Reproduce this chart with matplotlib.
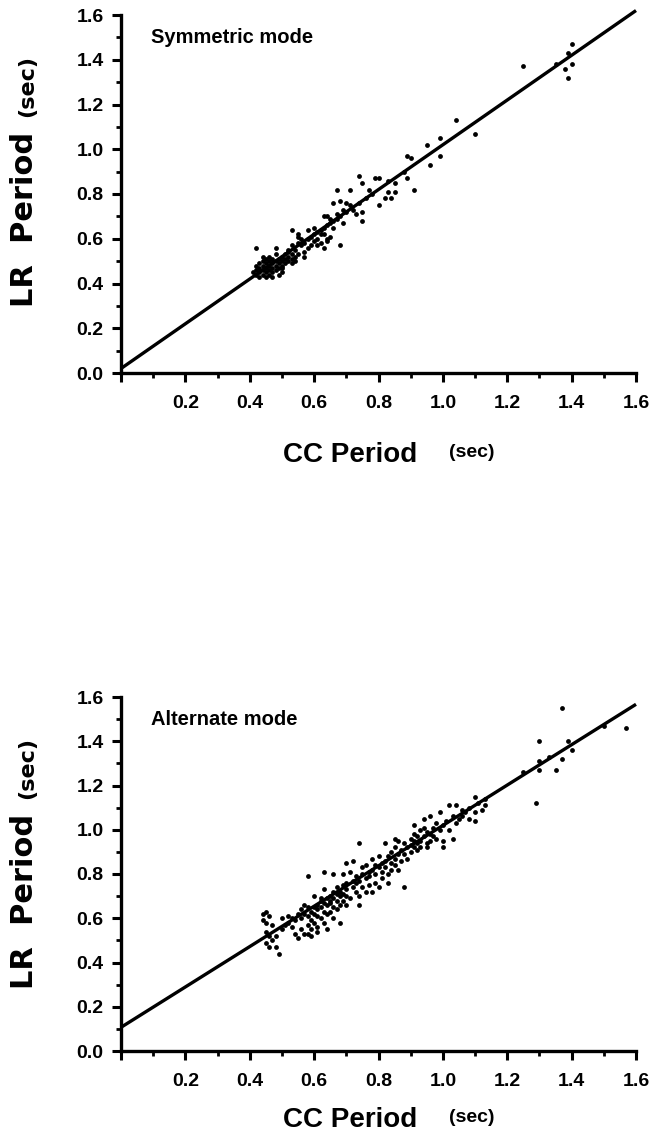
import matplotlib
matplotlib.use("Agg")
import matplotlib.pyplot as plt
from matplotlib.ticker import MultipleLocator, FuncFormatter

# ---------------- data ----------------
# Symmetric mode: CC period vs LR period (sec)
sym_cc = [1.25, 1.40, 1.39, 1.35, 1.38, 1.40, 1.39, 1.04, 1.10, 0.99, 0.95, 0.99, 0.96,
          0.89, 0.90, 0.88, 0.89, 0.91, 0.85, 0.83, 0.80, 0.79, 0.74, 0.75, 0.77, 0.83,
          0.85, 0.82, 0.84, 0.80, 0.67, 0.71, 0.66, 0.68, 0.70, 0.71, 0.73, 0.75, 0.75,
          0.69, 0.67, 0.69, 0.64, 0.65, 0.65, 0.63, 0.68, 0.57, 0.64, 0.63,
          0.53, 0.54, 0.55, 0.56, 0.56, 0.57, 0.58, 0.58, 0.59, 0.60, 0.60, 0.61, 0.61,
          0.62, 0.62, 0.63, 0.63, 0.64, 0.65, 0.66, 0.66, 0.67, 0.68, 0.70, 0.72, 0.74,
          0.76, 0.78, 0.54, 0.55, 0.57, 0.59, 0.60, 0.58, 0.62, 0.55, 0.52, 0.53, 0.48,
          0.42, 0.53, 0.55, 0.64, 0.61,
          0.42, 0.42, 0.43, 0.43, 0.44, 0.44, 0.44, 0.45, 0.45, 0.45, 0.46, 0.46, 0.46,
          0.47, 0.47, 0.47, 0.48, 0.48, 0.48, 0.49, 0.49, 0.49, 0.50, 0.50, 0.50, 0.51,
          0.51, 0.51, 0.52, 0.52, 0.52, 0.53, 0.50, 0.45, 0.47, 0.44, 0.46, 0.43, 0.41,
          0.42, 0.49, 0.50, 0.48, 0.46, 0.53, 0.54, 0.44, 0.47, 0.43, 0.45]
sym_lr = [1.37, 1.47, 1.43, 1.38, 1.36, 1.38, 1.32, 1.13, 1.07, 1.05, 1.02, 0.97, 0.93,
          0.97, 0.96, 0.90, 0.87, 0.82, 0.85, 0.86, 0.87, 0.87, 0.88, 0.85, 0.82, 0.81,
          0.81, 0.78, 0.78, 0.75, 0.82, 0.82, 0.76, 0.77, 0.76, 0.75, 0.71, 0.72, 0.68,
          0.73, 0.71, 0.67, 0.70, 0.69, 0.61, 0.56, 0.57, 0.52, 0.59, 0.70,
          0.57, 0.55, 0.58, 0.57, 0.60, 0.58, 0.60, 0.56, 0.61, 0.62, 0.59, 0.63, 0.60,
          0.64, 0.62, 0.65, 0.62, 0.66, 0.67, 0.68, 0.65, 0.69, 0.70, 0.72, 0.73, 0.76,
          0.78, 0.80, 0.52, 0.53, 0.54, 0.57, 0.65, 0.64, 0.58, 0.61, 0.55, 0.53, 0.56,
          0.56, 0.64, 0.62, 0.60, 0.57,
          0.46, 0.44, 0.47, 0.45, 0.48, 0.46, 0.44, 0.47, 0.45, 0.49, 0.48, 0.46, 0.50,
          0.47, 0.49, 0.45, 0.50, 0.48, 0.46, 0.51, 0.49, 0.47, 0.52, 0.50, 0.48, 0.53,
          0.51, 0.49, 0.52, 0.50, 0.54, 0.51, 0.45, 0.43, 0.43, 0.50, 0.52, 0.49, 0.45,
          0.48, 0.44, 0.47, 0.53, 0.44, 0.49, 0.50, 0.52, 0.51, 0.43, 0.51]

# Alternate mode: CC period vs LR period (sec)
alt_cc = [0.44, 0.45, 0.46, 0.44, 0.45, 0.47, 0.45, 0.46, 0.47, 0.45, 0.46, 0.48, 0.49,
          0.48, 0.50, 0.51, 0.52, 0.53, 0.53, 0.54, 0.52, 0.54, 0.55, 0.50, 0.55,
          0.56, 0.56, 0.56, 0.57, 0.57, 0.57, 0.58, 0.58, 0.58, 0.58, 0.58, 0.59, 0.59,
          0.59, 0.59, 0.60, 0.60, 0.60, 0.60, 0.61, 0.61, 0.61, 0.61, 0.61, 0.62, 0.62,
          0.62, 0.62, 0.63, 0.63, 0.63, 0.63, 0.63, 0.64, 0.64, 0.64, 0.64, 0.65, 0.65,
          0.65, 0.65, 0.66, 0.66, 0.66, 0.66, 0.66, 0.67, 0.67, 0.67, 0.67, 0.68, 0.68,
          0.68, 0.68, 0.69, 0.69, 0.69, 0.69, 0.70, 0.70, 0.70, 0.70, 0.70, 0.71, 0.71,
          0.72, 0.72, 0.72,
          0.73, 0.73, 0.73, 0.74, 0.74, 0.74, 0.74, 0.75, 0.75, 0.75, 0.76, 0.76, 0.76,
          0.77, 0.77, 0.77, 0.78, 0.78, 0.78, 0.79, 0.79, 0.79, 0.80, 0.80, 0.80, 0.81,
          0.81, 0.81, 0.82, 0.82, 0.82, 0.83, 0.83, 0.83, 0.84, 0.84, 0.84, 0.85, 0.85,
          0.85, 0.85, 0.86, 0.86, 0.86, 0.87, 0.87,
          0.88, 0.88, 0.88, 0.89, 0.89, 0.90, 0.90, 0.90, 0.91, 0.91, 0.91, 0.91, 0.92,
          0.92, 0.92, 0.93, 0.93, 0.93, 0.94, 0.94, 0.94, 0.95, 0.95, 0.95, 0.96, 0.96,
          0.96, 0.97, 0.97, 0.98, 0.98, 0.99, 0.99, 1.00, 1.00, 1.00,
          1.01, 1.02, 1.02, 1.03, 1.03, 1.04, 1.04, 1.05, 1.06, 1.06, 1.07, 1.08, 1.08,
          1.10, 1.10, 1.10, 1.11, 1.12, 1.13, 1.13,
          1.25, 1.29, 1.30, 1.30, 1.30, 1.35, 1.37, 1.39, 1.40, 1.37, 1.50, 1.57, 1.33]
alt_lr = [0.62, 0.63, 0.61, 0.59, 0.58, 0.57, 0.54, 0.52, 0.50, 0.49, 0.47, 0.47, 0.44,
          0.52, 0.55, 0.57, 0.58, 0.60, 0.56, 0.59, 0.61, 0.53, 0.51, 0.60, 0.62,
          0.64, 0.60, 0.55, 0.53, 0.62, 0.66, 0.65, 0.61, 0.57, 0.53, 0.79, 0.63, 0.59,
          0.55, 0.52, 0.65, 0.62, 0.58, 0.70, 0.66, 0.64, 0.61, 0.56, 0.54, 0.68, 0.65,
          0.60, 0.69, 0.67, 0.63, 0.73, 0.81, 0.58, 0.66, 0.69, 0.62, 0.55, 0.70, 0.67,
          0.63, 0.68, 0.72, 0.69, 0.65, 0.80, 0.60, 0.71, 0.68, 0.64, 0.74, 0.72, 0.70,
          0.66, 0.58, 0.75, 0.71, 0.68, 0.80, 0.73, 0.70, 0.76, 0.66, 0.85, 0.81, 0.69,
          0.86, 0.74, 0.77,
          0.76, 0.72, 0.79, 0.94, 0.70, 0.77, 0.66, 0.80, 0.74, 0.83, 0.78, 0.72, 0.84,
          0.81, 0.75, 0.79, 0.72, 0.82, 0.87, 0.80, 0.84, 0.76, 0.74, 0.83, 0.88, 0.85,
          0.81, 0.78, 0.94, 0.86, 0.83, 0.80, 0.88, 0.76, 0.85, 0.90, 0.82, 0.96, 0.87,
          0.92, 0.84, 0.82, 0.89, 0.95, 0.86, 0.91,
          0.89, 0.94, 0.74, 0.92, 0.87, 0.96, 0.93, 0.90, 0.95, 0.92, 0.98, 1.02, 0.94,
          0.91, 0.97, 0.95, 1.00, 0.92, 0.97, 1.01, 1.05, 0.94, 0.99, 0.92, 1.06, 0.98,
          0.95, 1.01, 0.97, 0.96, 1.03, 1.08, 1.00, 0.95, 0.92, 1.02,
          1.04, 1.11, 1.00, 0.96, 1.06, 1.11, 1.03, 1.05, 1.06, 1.09, 1.08, 1.10, 1.05,
          1.08, 1.04, 1.15, 1.12, 1.09, 1.11, 1.14,
          1.26, 1.12, 1.27, 1.31, 1.40, 1.27, 1.32, 1.40, 1.36, 1.55, 1.47, 1.46, 1.33]

# Least-squares lines (intercept, slope)
sym_fit = (0.02, 1.0)
alt_fit = (0.107, 0.9125)
fit_span = [0.0, 1.6]

# ---------------- figure ----------------
W, H = 652, 1134
fig = plt.figure(figsize=(W / 100, H / 100), dpi=100)
fig.patch.set_facecolor("white")

FONT = "Liberation Sans"
LABEL_FONT = "DejaVu Sans"


def fx(px):
    return px / W


def fy(py):
    return 1 - py / H


def make_panel(top_px, bottom_px, cc, lr, fit, title):
    left_px, right_px = 121, 636
    ax = fig.add_axes([fx(left_px), fy(bottom_px),
                       (right_px - left_px) / W, (bottom_px - top_px) / H])
    ax.set_xlim(0, 1.6)
    ax.set_ylim(0, 1.6)
    for side in ("top", "right"):
        ax.spines[side].set_visible(False)
    for side in ("left", "bottom"):
        ax.spines[side].set_linewidth(2.4)
    ax.xaxis.set_major_locator(MultipleLocator(0.2))
    ax.yaxis.set_major_locator(MultipleLocator(0.2))
    ax.xaxis.set_minor_locator(MultipleLocator(0.1))
    ax.yaxis.set_minor_locator(MultipleLocator(0.1))
    ax.xaxis.set_major_formatter(FuncFormatter(lambda v, p: "" if abs(v) < 1e-9 else f"{v:.1f}"))
    ax.yaxis.set_major_formatter(FuncFormatter(lambda v, p: f"{v:.1f}"))
    ax.tick_params(which="major", direction="out", length=6.5, width=2.2)
    ax.tick_params(which="minor", direction="out", length=3.6, width=2.0)
    ax.tick_params(axis="x", which="major", pad=9)
    ax.tick_params(axis="y", which="major", pad=6)
    for lab in ax.get_xticklabels() + ax.get_yticklabels():
        lab.set_fontfamily(FONT)
        lab.set_fontweight("bold")
        lab.set_fontsize(14)

    a, b = fit
    ax.plot(fit_span, [a + b * v for v in fit_span], color="black", lw=2.4,
            solid_capstyle="butt", clip_on=False, zorder=2)
    ax.scatter(cc, lr, s=12, c="black", linewidths=0, zorder=3, clip_on=False)

    ax.text(0.093, 1.50, title, fontfamily=FONT, fontweight="bold", fontsize=14.5,
            ha="left", va="center")
    return ax


make_panel(15, 373, sym_cc, sym_lr, sym_fit, "Symmetric mode")
make_panel(697, 1051, alt_cc, alt_lr, alt_fit, "Alternate mode")

# axis titles
for base_y, ylab_top in ((462, 15), (1127, 697)):
    fig.text(fx(350), fy(base_y), "CC Period", fontfamily=FONT, fontweight="bold",
             fontsize=20, ha="center", va="baseline")
    fig.text(fx(472), fy(base_y - 5), "(sec)", fontfamily=FONT, fontweight="bold",
             fontsize=14, ha="center", va="baseline")
    fig.text(fx(33), fy(ylab_top + 204), "LR  Period", fontfamily=LABEL_FONT,
             fontweight="bold", fontsize=22, rotation=90, rotation_mode="anchor",
             ha="center", va="baseline")
    fig.text(fx(33), fy(ylab_top + 71), "(sec)", fontfamily=LABEL_FONT,
             fontweight="bold", fontsize=16, rotation=90, rotation_mode="anchor",
             ha="center", va="baseline")

fig.savefig("out.png", dpi=100, facecolor="white")
